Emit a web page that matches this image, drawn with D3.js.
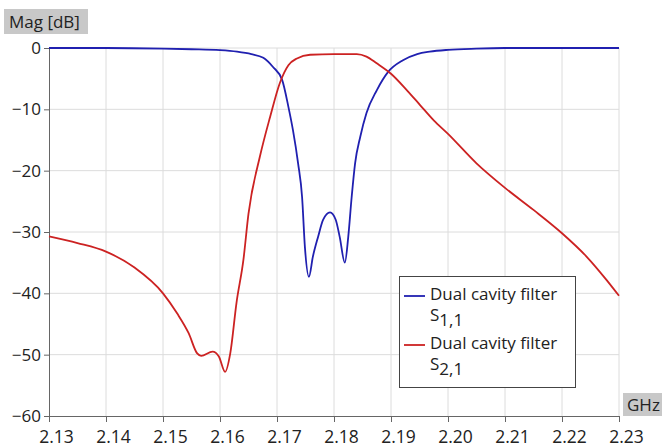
<!DOCTYPE html>
<html>
<head>
<meta charset="utf-8">
<script src="https://cdn.jsdelivr.net/npm/d3@7"></script>
<style>
  body { margin: 0; background: #fff; }
  svg text { font-family: "Open Sans", sans-serif; fill: #222; }
</style>
</head>
<body>
<script>
// frequency ticks (GHz) and magnitude ticks (dB)
const xTicks = [2.13, 2.14, 2.15, 2.16, 2.17, 2.18, 2.19, 2.20, 2.21, 2.22, 2.23];
const yTicks = [0, -10, -20, -30, -40, -50, -60];

// S1,1
const s11Freq = [2.13, 2.14, 2.15, 2.155, 2.16, 2.163, 2.1655, 2.1676, 2.1693, 2.1709, 2.172, 2.1728, 2.1737, 2.1744, 2.1749, 2.1756,
  2.1763, 2.1772, 2.1781, 2.1793, 2.1803, 2.181, 2.1819, 2.1825, 2.1831, 2.1837, 2.1846, 2.1857, 2.1875, 2.1895, 2.1921, 2.1946,
  2.1968, 2.20, 2.205, 2.21, 2.23];
const s11Mag = [0, 0, -0.1, -0.2, -0.35, -0.6, -1.0, -1.6, -3.1, -5.2, -9.6, -13.4, -18.8, -24.3, -32.5, -37.3,
  -34, -30.8, -28, -26.8, -28, -30.8, -35, -30.8, -24.3, -18.8, -14.5, -10.6, -6.9, -3.9, -2.0, -1.0,
  -0.6, -0.3, -0.1, 0, 0];

// S2,1
const s21Freq = [2.13, 2.135, 2.14, 2.145, 2.15, 2.1525, 2.1545, 2.156, 2.1567, 2.1587, 2.1598, 2.1609, 2.1618, 2.1629, 2.1641, 2.165,
  2.167, 2.1688, 2.1705, 2.172, 2.1735, 2.1758, 2.18, 2.184, 2.1857, 2.1875, 2.19, 2.1928, 2.1951, 2.1975, 2.20, 2.205,
  2.21, 2.215, 2.22, 2.2243, 2.2278, 2.23];
const s21Mag = [-30.7, -31.8, -33.2, -35.8, -40, -43.3, -46.5, -49.8, -50.2, -49.5, -50.3, -52.8, -49.8, -41.5, -34.6, -27,
  -17.7, -11.2, -5.7, -2.8, -1.7, -1.1, -1.0, -1.0, -1.4, -2.5, -4.2, -6.9, -9.3, -11.8, -14, -18.8,
  -22.8, -26.4, -30.2, -34, -37.8, -40.4];

const seriesNames = ["Dual cavity filter", "Dual cavity filter"];
const seriesSubs = ["1,1", "2,1"];
const seriesColors = ["#2020b0", "#cc2222"];

const w = 662, h = 448;

const xScale = d3.scaleLinear().domain([2.13, 2.23]).range([49, 619]);
const yScale = d3.scaleLinear().domain([-60, 0]).range([416, 48]);

const svg = d3.select("body").append("svg")
  .attr("width", w)
  .attr("height", h);

// grid
svg.append("g").selectAll("line")
  .data(xTicks.slice(1))
  .enter().append("line")
  .attr("x1", d => xScale(d)).attr("x2", d => xScale(d))
  .attr("y1", yScale(0)).attr("y2", yScale(-60))
  .attr("stroke", "#dcdcdc");

svg.append("g").selectAll("line")
  .data(yTicks.slice(0, -1))
  .enter().append("line")
  .attr("x1", xScale(2.13)).attr("x2", xScale(2.23))
  .attr("y1", d => yScale(d)).attr("y2", d => yScale(d))
  .attr("stroke", "#dcdcdc");

// axes
const xAxis = d3.axisBottom(xScale).tickValues(xTicks).tickFormat(d3.format(".2f")).tickSize(6).tickSizeOuter(0);
const yAxis = d3.axisLeft(yScale).tickValues(yTicks).tickFormat(d3.format("d")).tickSize(5).tickSizeOuter(0);

const gx = svg.append("g")
  .attr("transform", "translate(0," + yScale(-60) + ")")
  .call(xAxis);
gx.select(".domain").attr("stroke", "#666");
gx.selectAll(".tick line").attr("stroke", "#666");
gx.selectAll(".tick text").attr("font-size", 17.5).attr("dx", 7).attr("dy", "1.05em").attr("fill", "#222");

const gy = svg.append("g")
  .attr("transform", "translate(" + xScale(2.13) + ",0)")
  .call(yAxis);
gy.select(".domain").attr("stroke", "#666");
gy.selectAll(".tick line").attr("stroke", "#666");
gy.selectAll(".tick text").attr("font-size", 17).attr("x", -8).attr("fill", "#222");
gx.attr("font-family", null);
gy.attr("font-family", null);

// axis titles in grey boxes
svg.append("rect").attr("x", 4).attr("y", 9).attr("width", 84).attr("height", 25).attr("fill", "#c8c8c8");
svg.append("text").attr("x", 9).attr("y", 28).attr("font-size", 17).text("Mag [dB]");

svg.append("rect").attr("x", 623).attr("y", 393).attr("width", 45).attr("height", 23).attr("fill", "#c8c8c8");
svg.append("text").attr("x", 627).attr("y", 411).attr("font-size", 17).text("GHz");

// curves
const line = d3.line()
  .x(d => xScale(d[0]))
  .y(d => yScale(d[1]))
  .curve(d3.curveMonotoneX);

const series = [d3.zip(s11Freq, s11Mag), d3.zip(s21Freq, s21Mag)];

svg.append("g").selectAll("path")
  .data(series)
  .enter().append("path")
  .attr("d", line)
  .attr("fill", "none")
  .attr("stroke", (d, i) => seriesColors[i])
  .attr("stroke-width", 1.8);

// legend
const lg = svg.append("g");
lg.append("rect").attr("x", 399.5).attr("y", 276.5).attr("width", 176).attr("height", 111)
  .attr("fill", "#fff").attr("stroke", "#444");

seriesNames.forEach((name, i) => {
  const y0 = 300 + i * 49;
  lg.append("line").attr("x1", 404).attr("x2", 425).attr("y1", y0 - 4).attr("y2", y0 - 4)
    .attr("stroke", seriesColors[i]).attr("stroke-width", 1.8);
  lg.append("text").attr("x", 430).attr("y", y0).attr("font-size", 17).text(name);
  const t = lg.append("text").attr("x", 430).attr("y", y0 + 21).attr("font-size", 17);
  t.append("tspan").text("S");
  t.append("tspan").attr("dy", 5).text(seriesSubs[i]);
});
</script>
</body>
</html>
